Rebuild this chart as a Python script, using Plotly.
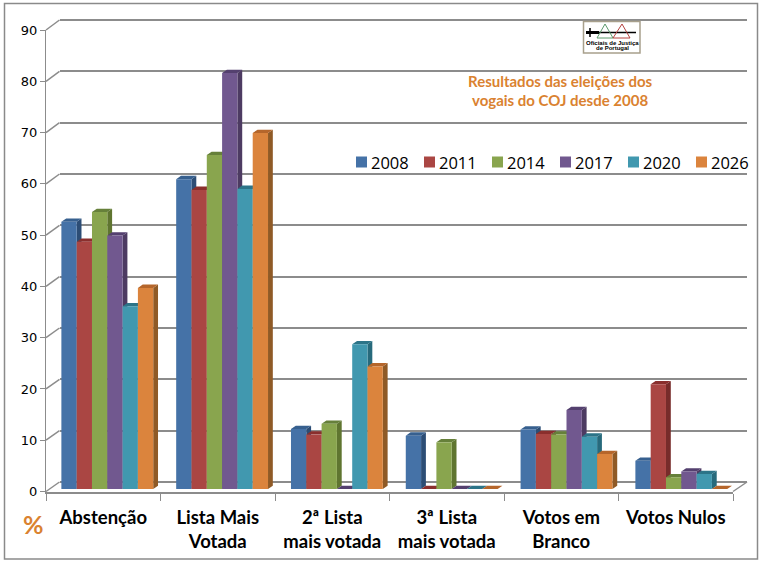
import plotly.graph_objects as go

W, H = 763, 563

# Data (percent)
categories = ["Abstenção", "Lista Mais<br>Votada", "2ª Lista<br>mais votada",
              "3ª Lista<br>mais votada", "Votos em<br>Branco", "Votos Nulos"]
years = ["2008", "2011", "2014", "2017", "2020", "2026"]
v2008 = [52.1, 60.4, 11.7, 10.4, 11.6, 5.5]
v2011 = [48.2, 58.3, 10.6, 0, 10.7, 20.4]
v2014 = [54.0, 65.1, 12.7, 9.1, 10.6, 2.3]
v2017 = [49.4, 81.1, 0, 0, 15.4, 3.4]
v2020 = [35.6, 58.5, 28.2, 0, 10.2, 2.9]
v2026 = [39.2, 69.4, 23.9, 0, 6.8, 0]
series = [v2008, v2011, v2014, v2017, v2020, v2026]

front_colors = ["#4572A7", "#AA4643", "#89A54E", "#71588F", "#4198AF", "#DB843D"]
side_colors = ["#2C4D75", "#772C2A", "#5F7530", "#4D3B62", "#276A7C", "#8F5A26"]
top_colors = ["#37608F", "#8A2F2D", "#66803A", "#54406F", "#2C7488", "#B5662B"]

GRID = "#8C8C8C"
ORANGE = "#DA8230"

# Pixel frames of the planes of the pseudo-3D box
FX0, FX1 = 46.0, 733.0       # front edge of the floor
FY0, FY90 = 491.5, 30.0      # front value scale
BX0, BX1 = 59.5, 747.0       # back wall
BY0, BY90 = 482.0, 20.0
PX0, PX1 = 49.9, 738.7       # plane holding the bar fronts
PY0, PY90 = 489.0, 27.3
DEPTH_X, DEPTH_Y = 4.8, 3.3  # receding depth of a bar
# Wider window for the depth layer, so slanted lines are not clipped
WX0, WX1, WY0, WY1 = 40.0, 752.0, 500.0, 10.0
# Back-wall axis overshoot, keeps the 0 and 90 gridlines from being dropped at the ends
WALL_PAD = 1.0

px = lambda x: x / W
py = lambda y: 1 - y / H

CAT_PX = (PX1 - PX0) / 6
VAL_PX = (PY0 - PY90) / 90
BACK_PX = (BY0 - BY90) / 90
BARGAP = 0.2
BAR_W = (1 - BARGAP) / 6
dx_u = DEPTH_X / CAT_PX
dy_u = DEPTH_Y / VAL_PX

# Convert a pixel position to units of the bar-plane axes
unit_x = lambda x: (x - PX0) / CAT_PX - 0.5
unit_y = lambda y: (PY0 - y) / VAL_PX

fig = go.Figure()

# Back wall: carries the horizontal grid only
fig.add_trace(go.Scatter(x=[0], y=[0], xaxis="x", yaxis="y", mode="markers",
                         marker=dict(opacity=0), hoverinfo="skip", showlegend=False))
# Front axes: value ticks and category labels
fig.add_trace(go.Scatter(x=categories, y=[None] * 6, xaxis="x2", yaxis="y2", mode="lines",
                         hoverinfo="skip", showlegend=False))

# Slanted wall lines and the right floor edge
FRONT_STEP = (FY0 - FY90) / 9
BACK_STEP = (BY0 - BY90) / 9
wall_x, wall_y = [], []
for k in range(10):
    wall_x += [unit_x(FX0), unit_x(BX0), None]
    wall_y += [unit_y(FY0 - k * FRONT_STEP), unit_y(BY0 - k * BACK_STEP), None]
wall_x += [unit_x(FX1), unit_x(BX1), None]
wall_y += [unit_y(FY0), unit_y(BY0), None]
fig.add_trace(go.Scatter(x=wall_x, y=wall_y, xaxis="x3", yaxis="y3", mode="lines",
                         line=dict(color=GRID, width=1.5),
                         hoverinfo="skip", showlegend=False))

# Receding faces, drawn left to right within each group
for i, values in enumerate(series):
    side_x, side_y, top_x, top_y = [], [], [], []
    for c, v in enumerate(values):
        left = c - (1 - BARGAP) / 2 + i * BAR_W
        right = left + BAR_W
        side_x += [right, right + dx_u, right + dx_u, right, right, None]
        side_y += [0, dy_u, v + dy_u, v, 0, None]
        top_x += [left, left + dx_u, right + dx_u, right, left, None]
        top_y += [v, v + dy_u, v + dy_u, v, v, None]
    for xs, ys, col in ((side_x, side_y, side_colors[i]), (top_x, top_y, top_colors[i])):
        fig.add_trace(go.Scatter(x=xs, y=ys, xaxis="x3", yaxis="y3", mode="lines",
                                 fill="toself", fillcolor=col, line=dict(width=0),
                                 hoverinfo="skip", showlegend=False))

# Bar fronts
for i, values in enumerate(series):
    fig.add_trace(go.Bar(x=categories, y=values, name=years[i], xaxis="x4", yaxis="y4",
                         marker=dict(color=front_colors[i], line=dict(width=0)),
                         showlegend=False))

hidden = dict(visible=False, fixedrange=True)
cat_common = dict(type="category", categoryorder="array", categoryarray=categories,
                  range=[-0.5, 5.5])
fig.update_layout(
    width=W, height=H, autosize=False,
    margin=dict(l=0, r=0, t=0, b=0, pad=0, autoexpand=False),
    paper_bgcolor="white", plot_bgcolor="rgba(0,0,0,0)",
    barmode="group", bargap=BARGAP, bargroupgap=0, showlegend=False,
    xaxis=dict(domain=[px(BX0), px(BX1)], range=[0, 1], **hidden),
    yaxis=dict(domain=[py(BY0 + WALL_PAD * BACK_PX), py(BY90 - WALL_PAD * BACK_PX)],
               range=[-WALL_PAD, 90 + WALL_PAD], tick0=0, dtick=10, showgrid=True,
               gridcolor=GRID, gridwidth=1.5, zeroline=False, showticklabels=False,
               showline=False, ticks="", anchor="x"),
    xaxis2=dict(domain=[px(FX0), px(FX1)], anchor="y2", showline=True, linecolor=GRID,
                linewidth=2, ticks="outside", ticklen=7, tickcolor=GRID, tickwidth=1.2,
                tickson="boundaries", showgrid=False,
                ticklabelstandoff=8, automargin=False,
                tickfont=dict(family="Lato", size=18.5, color="black", weight="bold"),
                tickangle=0, **cat_common),
    yaxis2=dict(domain=[py(FY0), py(FY90)], anchor="x2", range=[0, 90], dtick=10,
                showline=True, linecolor=GRID, linewidth=1.2, ticks="outside", ticklen=5,
                tickcolor=GRID, tickwidth=1.2, showgrid=False, zeroline=False,
                automargin=False,
                tickfont=dict(family="DejaVu Sans", size=13, color="black")),
    xaxis3=dict(domain=[px(WX0), px(WX1)], range=[unit_x(WX0), unit_x(WX1)],
                anchor="y3", **hidden),
    yaxis3=dict(domain=[py(WY0), py(WY1)], range=[unit_y(WY0), unit_y(WY1)],
                anchor="x3", **hidden),
    xaxis4=dict(domain=[px(PX0), px(PX1)], anchor="y4", visible=False, **cat_common),
    yaxis4=dict(domain=[py(PY0), py(PY90)], range=[0, 90], anchor="x4", visible=False),
)

# Outer frame
fig.add_shape(type="rect", xref="paper", yref="paper",
              x0=px(4.5), x1=px(757.5), y0=py(559), y1=py(3.5),
              line=dict(color="#8A8A8A", width=1.5), fillcolor="rgba(0,0,0,0)")

# Legend row
LEG_X = [356, 424, 492, 560, 628, 696]
for x, year, col in zip(LEG_X, years, front_colors):
    fig.add_shape(type="rect", xref="paper", yref="paper",
                  x0=px(x), x1=px(x + 11), y0=py(167.5), y1=py(156.5),
                  fillcolor=col, line=dict(width=0))
    fig.add_annotation(xref="paper", yref="paper", x=px(x + 15), y=py(162),
                       text=year, showarrow=False, xanchor="left", yanchor="middle",
                       font=dict(family="Open Sans", size=16.5, color="black"),
                       borderpad=0, borderwidth=0)

# Headline
for y, line in ((81, "Resultados das eleições dos"), (100.5, "vogais do COJ desde 2008")):
    fig.add_annotation(xref="paper", yref="paper", x=px(560), y=py(y), text=line,
                       showarrow=False, xanchor="center", yanchor="middle",
                       font=dict(family="Lato", size=15, color=ORANGE, weight="bold"))

# Unit marker
fig.add_annotation(xref="paper", yref="paper", x=px(33), y=py(524), text="%",
                   showarrow=False, xanchor="center", yanchor="middle",
                   font=dict(family="Lato", size=25, color=ORANGE, weight="bold"))

# Emblem
fig.add_shape(type="rect", xref="paper", yref="paper", x0=px(583.5), x1=px(640), y0=py(53),
              y1=py(21.5), fillcolor="white", line=dict(color="#A8A08C", width=1.5))
fig.add_shape(type="line", xref="paper", yref="paper", x0=px(599), x1=px(636), y0=py(32.5), y1=py(32.5),
              line=dict(color="black", width=1.5))
fig.add_shape(type="line", xref="paper", yref="paper", x0=px(586), x1=px(599), y0=py(32.5), y1=py(32.5),
              line=dict(color="black", width=3))
fig.add_shape(type="line", xref="paper", yref="paper", x0=px(590), x1=px(590), y0=py(28), y1=py(37),
              line=dict(color="black", width=1.5))
fig.add_shape(type="path", xref="paper", yref="paper", line=dict(color="#5B9A6B", width=1),
              path=f"M {px(597)} {py(38)} L {px(605)} {py(24)} L {px(613)} {py(38)} Z")
fig.add_shape(type="path", xref="paper", yref="paper", line=dict(color="#B5413E", width=1),
              path=f"M {px(613)} {py(38)} L {px(622)} {py(24)} L {px(630)} {py(38)} Z")
for y, line in ((42.7, "Oficiais de Justiça"), (48, "de Portugal")):
    fig.add_annotation(xref="paper", yref="paper", x=px(612), y=py(y), xanchor="center",
                       yanchor="middle", text=line, showarrow=False, borderpad=0,
                       font=dict(family="Liberation Sans", size=6, color="black", weight="bold"))

fig.write_html("out.html", config=dict(displayModeBar=False))
